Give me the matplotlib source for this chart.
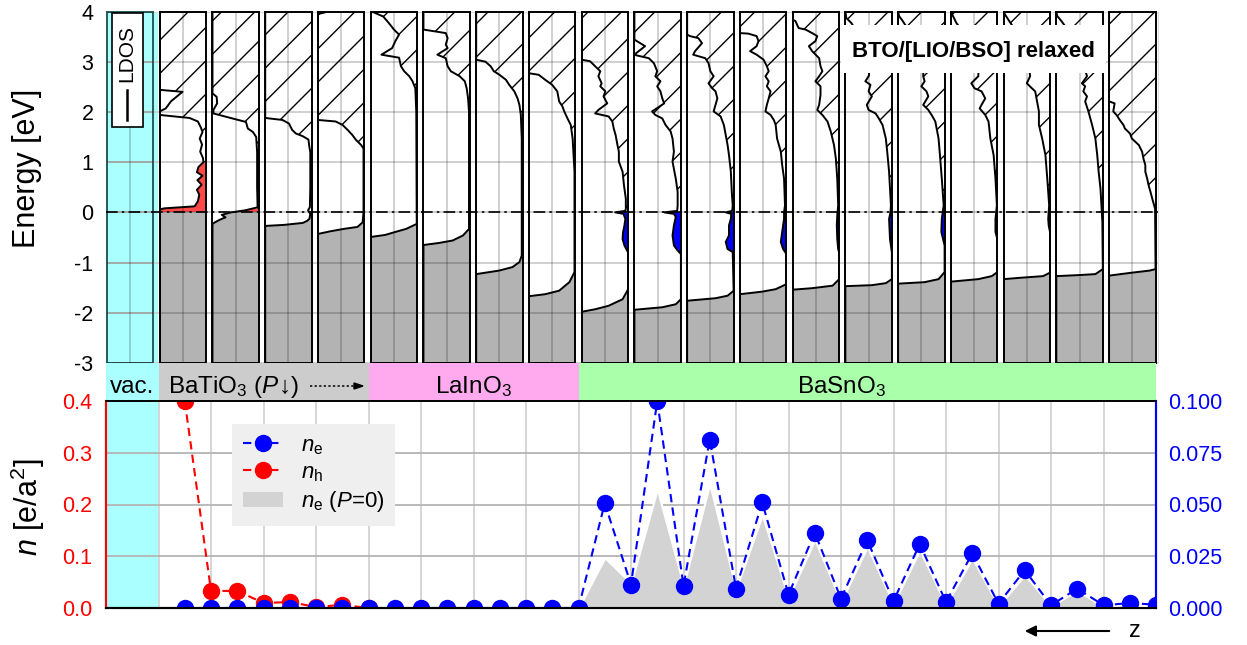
import numpy as np
import matplotlib
matplotlib.use("Agg")
import matplotlib.pyplot as plt
from matplotlib.patches import Rectangle, Patch
from matplotlib.lines import Line2D

plt.rcParams['font.family'] = 'Liberation Sans'
plt.rcParams['mathtext.fontset'] = 'custom'
plt.rcParams['mathtext.rm'] = 'Liberation Sans'
plt.rcParams['mathtext.it'] = 'Liberation Sans:italic'
plt.rcParams['mathtext.bf'] = 'Liberation Sans:bold'
plt.rcParams['hatch.linewidth'] = 1.0
plt.rcParams['axes.unicode_minus'] = False

# %% data ------------------------------------------------------------------

# LDOS per layer: energy [eV] and DOS (0 = right edge, 1 = clipped at left edge)
E_bto1 = [4.0, 2.44, 2.40, 2.21, 2.07, 2.01, 1.94, 1.88, 1.81, 1.70, 1.60, 1.47, 1.35, 1.21, 1.08, 1.00,
          0.90, 0.80, 0.73, 0.64, 0.55, 0.45, 0.35, 0.22, 0.12, 0.08, 0.06, -3.0]
D_bto1 = [1.0, 1.0, 0.51, 0.76, 0.87, 1.0, 1.0, 0.36, 0.18, 0.12, 0.08, 0.14, 0.09, 0.13, 0.07, 0.06,
          0.17, 0.20, 0.08, 0.19, 0.10, 0.20, 0.15, 0.18, 0.25, 0.90, 1.0, 1.0]
E_bto2 = [4.0, 2.37, 2.30, 2.17, 2.04, 1.97, 1.87, 1.80, 1.67, 1.60, 1.50, 1.20, 0.50, 0.10, 0.04, 0.0,
          -0.05, -0.10, -0.15, -0.20, -0.23, -3.0]
D_bto2 = [1.0, 1.0, 0.91, 0.90, 0.98, 0.98, 0.57, 0.28, 0.24, 0.13, 0.06, 0.04, 0.04, 0.03, 0.30, 0.60,
          0.80, 0.72, 0.85, 0.95, 1.0, 1.0]
E_bto3 = [4.0, 1.88, 1.84, 1.77, 1.64, 1.57, 1.52, 1.45, 1.30, 1.20, 0.50, 0.10, 0.04, -0.03, -0.13,
          -0.17, -0.21, -0.25, -0.27, -3.0]
D_bto3 = [1.0, 1.0, 0.63, 0.49, 0.42, 0.34, 0.20, 0.07, 0.05, 0.03, 0.03, 0.04, 0.08, 0.03, 0.05,
          0.10, 0.19, 0.60, 1.0, 1.0]
E_bto4 = [4.0, 3.95, 1.84, 1.81, 1.74, 1.64, 1.54, 1.44, 1.34, 1.27, 0.0, -0.20, -0.29, -0.33, -0.38, -0.43, -3.0]
D_bto4 = [0.77, 1.0, 1.0, 0.62, 0.47, 0.36, 0.26, 0.18, 0.07, 0.02, 0.02, 0.04, 0.15, 0.45, 0.75, 1.0, 1.0]
E_lio1 = [4.0, 3.90, 3.77, 3.64, 3.54, 3.41, 3.27, 3.14, 3.08, 2.91, 2.81, 2.71, 2.61, 2.47, 2.0,
          -0.23, -0.33, -0.39, -0.45, -0.49, -3.0]
D_lio1 = [0.98, 0.73, 0.61, 0.50, 0.39, 0.47, 0.54, 0.77, 0.39, 0.35, 0.28, 0.17, 0.10, 0.04, 0.02,
          0.01, 0.24, 0.47, 0.69, 1.0, 1.0]
E_lio2 = [4.0, 3.64, 3.57, 3.47, 3.34, 3.27, 3.14, 3.07, 2.91, 2.81, 2.71, 2.61, 2.47, 2.27, 2.0,
          -0.33, -0.46, -0.56, -0.61, -0.65, -3.0]
D_lio2 = [1.0, 1.0, 0.52, 0.48, 0.52, 0.48, 0.70, 0.52, 0.48, 0.41, 0.22, 0.11, 0.07, 0.04, 0.02,
          0.02, 0.15, 0.37, 0.67, 1.0, 1.0]
E_lio3 = [4.0, 3.04, 3.00, 2.91, 2.81, 2.74, 2.64, 2.54, 2.41, 2.27, 2.14, 1.94, 1.47,
          -0.86, -0.99, -1.09, -1.16, -1.23, -3.0]
D_lio3 = [1.0, 1.0, 0.80, 0.69, 0.62, 0.50, 0.36, 0.29, 0.18, 0.11, 0.07, 0.04, 0.02,
          0.02, 0.07, 0.22, 0.51, 1.0, 1.0]
E_lio4 = [4.0, 2.77, 2.74, 2.64, 2.54, 2.41, 2.21, 2.11, 2.01, 1.87, 1.74, 1.47, 0.81,
          -1.19, -1.39, -1.56, -1.63, -1.67, -3.0]
D_lio4 = [1.0, 1.0, 0.79, 0.65, 0.50, 0.39, 0.35, 0.28, 0.24, 0.17, 0.10, 0.06, 0.02,
          0.02, 0.13, 0.35, 0.65, 1.0, 1.0]
E_bso1 = [4.0, 3.04, 3.01, 2.91, 2.81, 2.71, 2.57, 2.51, 2.41, 2.31, 2.17, 2.04, 1.97, 1.91, 1.81, 1.67,
          1.54, 1.34, 1.21, 1.01, 0.81, 0.54, 0.27, 0.07, 0.03, 0.0, -0.03, -0.13, -0.26, -0.40, -0.53,
          -0.66, -0.75, -0.80, -1.53, -1.73, -1.86, -1.93, -1.98, -3.0]
D_bso1 = [1.0, 1.0, 0.82, 0.71, 0.60, 0.64, 0.57, 0.60, 0.49, 0.53, 0.45, 0.64, 0.71, 0.42, 0.34, 0.31,
          0.27, 0.23, 0.20, 0.20, 0.12, 0.09, 0.05, 0.05, 0.06, 0.28, 0.10, 0.06, 0.08, 0.11, 0.12,
          0.08, 0.03, 0.0, 0.0, 0.12, 0.42, 0.71, 1.0, 1.0]
E_bso2 = [4.0, 3.44, 3.31, 3.15, 3.13, 3.07, 2.97, 2.81, 2.71, 2.61, 2.51, 2.41, 2.27, 2.17, 2.01, 1.94,
          1.87, 1.74, 1.61, 1.47, 1.21, 1.01, 0.67, 0.41, 0.14, 0.03, 0.0, -0.03, -0.09, -0.26, -0.46,
          -0.66, -0.76, -0.83, -1.73, -1.83, -1.89, -1.94, -3.0]
D_bso2 = [1.0, 1.0, 0.77, 0.99, 0.97, 0.69, 0.58, 0.51, 0.55, 0.44, 0.51, 0.44, 0.40, 0.36, 0.62, 0.55,
          0.40, 0.33, 0.22, 0.18, 0.15, 0.18, 0.11, 0.07, 0.07, 0.08, 0.36, 0.15, 0.11, 0.15, 0.18,
          0.15, 0.07, 0.0, 0.0, 0.11, 0.40, 1.0, 1.0]
E_bso3 = [4.0, 3.54, 3.51, 3.47, 3.37, 3.21, 3.14, 3.07, 2.97, 2.81, 2.71, 2.57, 2.47, 2.41, 2.27, 2.14,
          2.01, 1.91, 1.74, 1.54, 1.34, 1.14, 0.81, 0.41, 0.14, 0.03, 0.0, -0.03, -0.13, -0.26, -0.46,
          -0.59, -0.73, -0.79, -1.56, -1.66, -1.71, -1.76, -3.0]
D_bso3 = [1.0, 1.0, 0.94, 0.76, 0.68, 0.83, 0.87, 0.61, 0.54, 0.50, 0.43, 0.54, 0.46, 0.39, 0.35, 0.39,
          0.43, 0.28, 0.21, 0.17, 0.13, 0.10, 0.06, 0.04, 0.02, 0.03, 0.17, 0.05, 0.06, 0.10, 0.10,
          0.17, 0.13, 0.02, 0.0, 0.13, 0.39, 1.0, 1.0]
E_bso4 = [4.0, 3.57, 3.56, 3.51, 3.41, 3.31, 3.21, 3.14, 3.04, 2.91, 2.81, 2.71, 2.61, 2.51, 2.41, 2.27,
          2.14, 2.01, 1.94, 1.84, 1.74, 1.47, 1.21, 0.94, 0.67, 0.14, 0.0, -0.13, -0.39, -0.59, -0.73,
          -0.83, -1.43, -1.53, -1.58, -1.63, -3.0]
D_bso4 = [1.0, 1.0, 0.82, 0.64, 0.60, 0.64, 0.78, 0.64, 0.49, 0.42, 0.38, 0.45, 0.38, 0.42, 0.34, 0.38,
          0.42, 0.45, 0.34, 0.27, 0.23, 0.20, 0.12, 0.09, 0.05, 0.03, 0.05, 0.05, 0.09, 0.12, 0.07,
          0.0, 0.0, 0.23, 0.53, 1.0, 1.0]
E_bso5 = [4.0, 3.84, 3.81, 3.67, 3.64, 3.57, 3.51, 3.41, 3.31, 3.21, 3.07, 2.91, 2.81, 2.71, 2.61, 2.51,
          2.34, 2.14, 2.04, 1.94, 1.81, 1.61, 1.34, 1.07, 0.67, 0.14, -0.06, -0.26, -0.53, -0.73, -0.80,
          -1.33, -1.46, -1.51, -1.54, -3.0]
D_bso5 = [1.0, 1.0, 0.94, 0.87, 0.72, 0.58, 0.47, 0.51, 0.65, 0.58, 0.43, 0.40, 0.36, 0.43, 0.51, 0.40,
          0.40, 0.43, 0.47, 0.36, 0.25, 0.18, 0.11, 0.07, 0.04, 0.02, 0.04, 0.05, 0.04, 0.02, 0.0,
          0.0, 0.14, 0.58, 1.0, 1.0]
E_bso6 = [4.0, 3.87, 3.77, 3.30, 2.90, 2.74, 2.71, 2.61, 2.54, 2.41, 2.31, 2.14, 2.04, 1.97, 1.87, 1.74,
          1.47, 1.21, 0.81, 0.14, 0.0, -0.13, -0.53, -0.80, -1.33, -1.41, -1.45, -1.47, -3.0]
D_bso6 = [1.0, 0.98, 0.87, 0.55, 0.50, 0.49, 0.50, 0.57, 0.46, 0.50, 0.43, 0.54, 0.50, 0.35, 0.28, 0.20,
          0.13, 0.10, 0.06, 0.02, 0.03, 0.06, 0.04, 0.0, 0.0, 0.13, 0.43, 1.0, 1.0]
E_bso7 = [4.0, 3.91, 3.81, 3.30, 2.90, 2.71, 2.61, 2.51, 2.41, 2.31, 2.14, 2.04, 1.94, 1.81, 1.47, 1.14,
          0.67, 0.14, -0.13, -0.39, -0.66, -1.19, -1.33, -1.39, -1.42, -3.0]
D_bso7 = [1.0, 0.98, 0.90, 0.55, 0.45, 0.46, 0.43, 0.50, 0.39, 0.35, 0.46, 0.35, 0.28, 0.20, 0.13, 0.10,
          0.06, 0.02, 0.06, 0.07, 0.0, 0.0, 0.13, 0.43, 1.0, 1.0]
E_bso8 = [4.0, 3.94, 3.77, 3.30, 2.90, 2.71, 2.57, 2.47, 2.41, 2.27, 2.14, 2.07, 1.94, 1.81, 1.47, 1.14,
          0.67, 0.14, -0.13, -0.39, -0.53, -1.19, -1.27, -1.33, -1.38, -3.0]
D_bso8 = [1.0, 0.97, 0.88, 0.50, 0.40, 0.41, 0.56, 0.49, 0.34, 0.26, 0.34, 0.38, 0.26, 0.19, 0.15, 0.08,
          0.04, 0.01, 0.04, 0.04, 0.0, 0.0, 0.12, 0.41, 1.0, 1.0]
E_bso9 = [4.0, 3.94, 3.77, 3.30, 2.90, 2.71, 2.57, 2.47, 2.41, 2.21, 2.01, 1.74, 1.47, 1.14, 0.67, 0.14,
          -0.13, -0.26, -0.40, -1.20, -1.27, -1.30, -1.33, -3.0]
D_bso9 = [1.0, 0.97, 0.85, 0.50, 0.45, 0.43, 0.50, 0.39, 0.32, 0.28, 0.24, 0.24, 0.17, 0.10, 0.06, 0.02,
          0.04, 0.03, 0.0, 0.0, 0.15, 0.60, 1.0, 1.0]
E_bso10 = [4.0, 3.91, 3.81, 3.30, 2.90, 2.71, 2.57, 2.51, 2.41, 2.31, 2.21, 2.01, 1.74, 1.47, 1.14, 0.81,
           0.47, 0.14, -0.19, -1.13, -1.23, -1.25, -1.27, -3.0]
D_bso10 = [1.0, 0.98, 0.89, 0.50, 0.40, 0.34, 0.45, 0.38, 0.42, 0.34, 0.38, 0.31, 0.23, 0.16, 0.12, 0.09,
           0.05, 0.03, 0.01, 0.0, 0.16, 0.53, 1.0, 1.0]
E_bso11 = [4.0, 2.21, 2.17, 2.01, 1.94, 1.84, 1.74, 1.67, 1.57, 1.47, 1.41, 1.34, 1.21, 1.07, 0.94, 0.81,
           0.67, 0.54, 0.41, 0.27, 0.07, -1.13, -1.16, -1.20, -1.26, -3.0]
D_bso11 = [1.0, 1.0, 0.88, 0.91, 0.84, 0.77, 0.69, 0.66, 0.55, 0.51, 0.44, 0.36, 0.29, 0.26, 0.22, 0.22,
           0.18, 0.15, 0.11, 0.07, 0.01, 0.0, 0.13, 0.50, 1.0, 1.0]

# energy splitting valence-like / conduction-like states in each layer
e_split = [1.0, 0.06, 0.0, 0.0, 0.0, 0.0, 0.0, 0.0,
           -1.0, -1.0, -1.0, -1.0, -1.0, -1.0, -1.0, -1.0, -1.0, -1.0, -1.0]

# layer-resolved carrier densities
z_h = [1.5, 2.0, 2.5, 3.0, 3.5, 4.0, 4.5, 5.0]
n_h = [0.40, 0.033, 0.033, 0.0097, 0.0115, 0.002, 0.006, 0.0]

z_e = np.arange(1.5, 20.01, 0.5)
n_e = [0.0] * 15 + [0.0, 0.0506, 0.0113, 0.100, 0.0107, 0.0814, 0.0094, 0.051, 0.0065, 0.0364,
                    0.0045, 0.0328, 0.0034, 0.0309, 0.0029, 0.0264, 0.0021, 0.0183, 0.0013, 0.0094,
                    0.0013, 0.0024, 0.0016]

z_p0 = np.arange(9.0, 20.01, 0.5)
n_p0 = [0.0, 0.0243, 0.012, 0.0574, 0.011, 0.060, 0.009, 0.045, 0.005, 0.033, 0.003, 0.0296,
        0.002, 0.028, 0.0015, 0.024, 0.001, 0.016, 0.001, 0.0085, 0.0005, 0.002, 0.0]

regions = ["vac.", "BaTiO$_3$", "LaInO$_3$", "BaSnO$_3$"]
region_span = [(0, 1), (1, 5), (5, 9), (9, 20)]
region_color = ["#aaffff", "#cccccc", "#ffaaee", "#aaffaa"]

ldos_E = [E_bto1, E_bto2, E_bto3, E_bto4, E_lio1, E_lio2, E_lio3, E_lio4,
          E_bso1, E_bso2, E_bso3, E_bso4, E_bso5, E_bso6, E_bso7, E_bso8, E_bso9, E_bso10, E_bso11]
ldos_D = [D_bto1, D_bto2, D_bto3, D_bto4, D_lio1, D_lio2, D_lio3, D_lio4,
          D_bso1, D_bso2, D_bso3, D_bso4, D_bso5, D_bso6, D_bso7, D_bso8, D_bso9, D_bso10, D_bso11]

# %% layout helpers ---------------------------------------------------------

W, H = 1247, 645
fig = plt.figure(figsize=(W / 100, H / 100), dpi=100)


def rect(x0, y0, x1, y1):
    return [x0 / W, 1 - y1 / H, (x1 - x0) / W, (y1 - y0) / H]


def fx(x):
    return x / W


def fy(y):
    return 1 - y / H


def clipped_fill(ax, E, d, lo, hi, **kw):
    if hi <= lo:
        return
    poly = ax.fill_betweenx(E, 0, d, **kw)
    poly.set_clip_path(Rectangle((0, lo), 1, hi - lo, transform=ax.transData))


TOP, BOT = 11.5, 363

# %% top: LDOS panels -------------------------------------------------------

ax_bg = fig.add_axes(rect(106, TOP, 1158, BOT))
ax_bg.set_xlim(0, 20.04)
ax_bg.set_ylim(-3, 4)
ax_bg.axvspan(0, 1, color=region_color[0], lw=0)
ax_bg.set_xticks([])
ax_bg.set_yticks(range(-3, 5))
ax_bg.tick_params(axis='y', length=0, pad=9, labelsize=15.5)
ax_bg.grid(axis='y', color='#cccccc', lw=1.3)
for s in ax_bg.spines.values():
    s.set_color('#dddddd')

for k in range(20):
    x0 = 107 + 52.74 * k
    ax = fig.add_axes(rect(x0, TOP, x0 + (45.5 if k == 0 else 46.5), BOT))
    ax.set_xlim(1, 0)
    ax.set_ylim(-3, 4)
    ax.set_xticks([0.5])
    ax.set_yticks(range(-3, 5))
    ax.tick_params(length=0, labelbottom=False, labelleft=False)
    ax.grid(True, color='k', alpha=0.2, lw=1.3)
    ax.set_axisbelow(False)
    for s in ax.spines.values():
        s.set_linewidth(1.4)
    if k == 0:
        ax.set_facecolor('none')
        for s in ax.spines.values():
            s.set_color('#2a5a5a')
        continue
    E = ldos_E[k - 1]
    d = ldos_D[k - 1]
    es = e_split[k - 1]
    clipped_fill(ax, E, d, -3, min(0, es), facecolor='#b3b3b3', lw=0)
    clipped_fill(ax, E, d, es, 0, facecolor='#0000ff', lw=0)
    clipped_fill(ax, E, d, 0, es, facecolor='#ff4848', lw=0)
    clipped_fill(ax, E, d, max(0, es), 4, facecolor='white', edgecolor='k', hatch='/', lw=0)
    ax.plot(d, E, color='k', lw=1.4)

ax_ov = fig.add_axes(rect(106, TOP, 1158, BOT), zorder=10)
ax_ov.set_xlim(0, 1)
ax_ov.set_ylim(-3, 4)
ax_ov.axis('off')
ax_ov.axhline(0, color='k', lw=1.2, ls=(0, (7, 2.5, 1.5, 2.5)))

# LDOS legend inside vacuum panel
fig.add_artist(Rectangle((fx(112), fy(127)), fx(31), 114 / H, transform=fig.transFigure,
                         facecolor='white', edgecolor='k', lw=1.2, zorder=20))
fig.add_artist(Line2D([fx(127), fx(127)], [fy(120), fy(90)], transform=fig.transFigure,
                      color='k', lw=1.8, zorder=21))
fig.text(fx(127), fy(53), 'LDOS', rotation=90, ha='center', va='center', fontsize=15, zorder=21)

# title box
fig.add_artist(Rectangle((fx(841), fy(73)), fx(265), 48 / H, transform=fig.transFigure,
                         facecolor='white', edgecolor='none', zorder=20))
fig.text(fx(973), fy(51), 'BTO/[LIO/BSO] relaxed', ha='center', va='center',
         fontsize=16, fontweight='bold', zorder=21)

fig.text(fx(27), fy(168), 'Energy [eV]', rotation=90, ha='center', va='center', fontsize=22)

# %% region band --------------------------------------------------------------

ax_band = fig.add_axes(rect(106, BOT, 1156, 401))
ax_band.set_xlim(0, 20)
ax_band.set_ylim(0, 1)
ax_band.axis('off')
for (a, b), c in zip(region_span, region_color):
    ax_band.axvspan(a, b, color=c, lw=0)

base = fy(393)
fig.text(fx(132), base, regions[0], ha='center', va='baseline', fontsize=17.5)
fig.text(fx(168), base, regions[1] + ' ($P$\u2193)', ha='left', va='baseline', fontsize=17.5)
fig.text(fx(474), base, regions[2], ha='center', va='baseline', fontsize=17.5)
fig.text(fx(842), base, regions[3], ha='center', va='baseline', fontsize=17.5)
fig.add_artist(Line2D([fx(310), fx(356)], [fy(386), fy(386)], transform=fig.transFigure,
                      color='k', lw=1.1, ls=(0, (1.5, 1.5))))
fig.patches.append(plt.Polygon([[fx(363), fy(386)], [fx(354), fy(383)], [fx(354), fy(389)]],
                               closed=True, transform=fig.transFigure, color='k'))

# %% bottom: carrier densities -----------------------------------------------

ax1 = fig.add_axes(rect(106, 401, 1156, 608))
ax1.set_xlim(0, 20)
ax1.set_ylim(0, 0.4)
ax1.axvspan(0, 1, color=region_color[0], lw=0)
ax1.set_xticks(range(0, 21))
ax1.set_yticks([0, 0.1, 0.2, 0.3, 0.4])
ax1.set_yticklabels(['0.0', '0.1', '0.2', '0.3', '0.4'])
ax1.tick_params(axis='x', length=0, labelbottom=False)
ax1.tick_params(axis='y', length=0, pad=10, labelsize=15.5, labelcolor='red')
ax1.grid(axis='x', color='#d2d2d2', lw=1.3)
ax1.grid(axis='y', color='#b4b4b4', lw=1.3)
hl_h, = ax1.plot(z_h, n_h, ls='--', color='red', marker='o', ms=11.5, lw=1.5, dashes=(4, 2.5))

ax2 = ax1.twinx()
ax2.set_ylim(0, 0.1)
ax2.set_yticks([0, 0.025, 0.05, 0.075, 0.1])
ax2.set_yticklabels(['0.000', '0.025', '0.050', '0.075', '0.100'])
ax2.tick_params(axis='y', length=0, pad=9, labelsize=15.5, labelcolor='blue')
ax2.fill_between(z_p0, 0, n_p0, facecolor='#d3d3d3', edgecolor='white', lw=1.5)
hl_e, = ax2.plot(z_e, n_e, ls='--', color='blue', marker='o', ms=11.5, lw=1.5, dashes=(4, 2.5))

for a in (ax1, ax2):
    a.spines['left'].set_color('red')
    a.spines['right'].set_color('blue')
    a.spines['left'].set_linewidth(1.5)
    a.spines['right'].set_linewidth(1.5)
    a.spines['bottom'].set_linewidth(1.5)
    a.spines['top'].set_linewidth(1.2)

ax2.legend([hl_e, hl_h, Patch(facecolor='#d3d3d3')],
           [r'$n_\mathrm{e}$', r'$n_\mathrm{h}$', r'$n_\mathrm{e}$ ($P$=0)'],
           loc='upper left', bbox_to_anchor=(0.12, 0.889), borderaxespad=0, fontsize=16,
           facecolor='#efefef', edgecolor='none', fancybox=False, framealpha=1,
           handlelength=1.8, labelspacing=0.25, borderpad=0.5)

fig.text(fx(28), fy(507), '$n$ [e/a$^2$]', rotation=90, ha='center', va='center', fontsize=22)

# z direction arrow
ax1.annotate('', xy=(fx(1022), fy(631)), xytext=(fx(1112), fy(631)),
             xycoords='figure fraction', textcoords='figure fraction',
             arrowprops=dict(arrowstyle='-|>', color='k', lw=1.5, mutation_scale=16))
fig.text(fx(1135), fy(631), 'z', ha='center', va='center', fontsize=17)

fig.savefig('out.png', dpi=100)
